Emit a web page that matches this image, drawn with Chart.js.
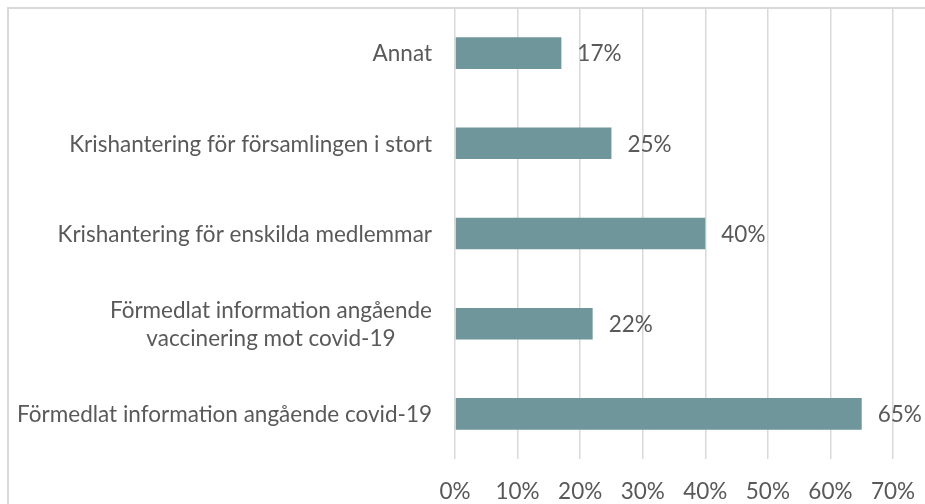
<!DOCTYPE html>
<html>
<head>
<meta charset="utf-8">
<script src="https://cdn.jsdelivr.net/npm/chart.js@4"></script>
<style>
  html, body { margin: 0; padding: 0; background: #fff; }
  #wrap { position: relative; width: 925px; height: 504px; overflow: hidden; }
  #frame { position: absolute; left: 7px; top: 7px; width: 940px; height: 520px;
           border-left: 2px solid #d9d9d9; border-top: 2px solid #d9d9d9; box-sizing: border-box; }
  canvas { position: absolute; left: 0; top: 0; }
</style>
</head>
<body>
<div id="wrap">
  <div id="frame"></div>
  <canvas id="chart" width="925" height="504"></canvas>
</div>
<script>
const categories = [
  'Annat',
  'Krishantering för församlingen i stort',
  'Krishantering för enskilda medlemmar',
  ['Förmedlat information angående', 'vaccinering mot covid-19'],
  'Förmedlat information angående covid-19'
];
const shares = [17, 25, 40, 22, 65];
const tickValues = [0, 10, 20, 30, 40, 50, 60, 70];

const fontFamily = 'Lato, "Open Sans", sans-serif';
const fontSize = 22.5;
const textColor = '#595959';

// value labels to the right of each bar
const valueLabels = {
  id: 'valueLabels',
  afterDatasetsDraw(chart) {
    const ctx = chart.ctx;
    const meta = chart.getDatasetMeta(0);
    ctx.save();
    ctx.font = fontSize + 'px ' + fontFamily;
    ctx.fillStyle = textColor;
    ctx.textAlign = 'left';
    ctx.textBaseline = 'middle';
    meta.data.forEach((bar, i) => {
      ctx.fillText(shares[i] + '%', bar.x + 16, bar.y + 1);
    });
    ctx.restore();
  }
};

// category labels: block right-aligned, lines centred inside the block
const categoryLabels = {
  id: 'categoryLabels',
  afterDraw(chart) {
    const ctx = chart.ctx;
    const yScale = chart.scales.y;
    const right = chart.chartArea.left - 23;
    const lineHeight = 28;
    ctx.save();
    ctx.font = fontSize + 'px ' + fontFamily;
    ctx.fillStyle = textColor;
    ctx.textAlign = 'center';
    ctx.textBaseline = 'middle';
    categories.forEach((label, i) => {
      const lines = Array.isArray(label) ? label : [label];
      const w = Math.max(...lines.map(l => ctx.measureText(l).width));
      const cx = right - w / 2;
      const y0 = yScale.getPixelForValue(i) - (lines.length - 1) * lineHeight / 2;
      lines.forEach((l, j) => ctx.fillText(l, cx, y0 + j * lineHeight + 1));
    });
    ctx.restore();
  }
};

document.addEventListener('DOMContentLoaded', function () {
  const ctx = document.getElementById('chart').getContext('2d');
  new Chart(ctx, {
    type: 'bar',
    data: {
      labels: categories,
      datasets: [{
        data: shares,
        backgroundColor: '#6f969b',
        borderWidth: 0,
        categoryPercentage: 1,
        barPercentage: 0.35
      }]
    },
    options: {
      indexAxis: 'y',
      responsive: false,
      animation: false,
      layout: { padding: { top: 8, right: 32, left: 0, bottom: 0 } },
      plugins: { legend: { display: false }, tooltip: { enabled: false } },
      scales: {
        x: {
          min: 0,
          max: 70,
          afterBuildTicks(scale) {
            scale.ticks = tickValues.map(v => ({ value: v }));
          },
          afterFit(scale) {
            scale.height = 45;
            scale.paddingLeft = 0;
            scale.paddingRight = 0;
          },
          grid: { color: '#d9d9d9', lineWidth: 1.5, drawTicks: false },
          border: { display: false },
          ticks: {
            padding: 19,
            color: textColor,
            font: { family: fontFamily, size: fontSize },
            callback: v => v + '%'
          }
        },
        y: {
          afterFit(scale) {
            scale.width = 455;
            scale.paddingTop = 0;
            scale.paddingBottom = 0;
          },
          grid: { display: false, drawTicks: false },
          border: { display: false },
          ticks: { display: false }
        }
      }
    },
    plugins: [valueLabels, categoryLabels]
  });
});
</script>
</body>
</html>
